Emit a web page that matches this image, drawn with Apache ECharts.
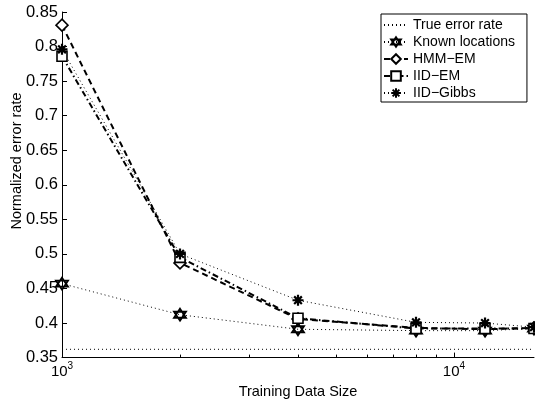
<!DOCTYPE html>
<html><head><meta charset="utf-8">
<script src="https://cdn.jsdelivr.net/npm/echarts@6/dist/echarts.min.js"></script>
<style>html,body{margin:0;padding:0;background:#fff}#c{width:535px;height:404px}</style>
</head><body><div id="c"></div>
<script>
// ---- data ----
const sizes   = [1000, 2000, 4000, 8000, 12000, 16000];
const trueErr = [0.362, 0.362, 0.362, 0.362, 0.362, 0.362];
const known   = [0.457, 0.412, 0.391, 0.389, 0.389, 0.392];
const hmmEm   = [0.831, 0.487, 0.406, 0.393, 0.391, 0.393];
const iidEm   = [0.786, 0.495, 0.407, 0.392, 0.392, 0.392];
const iidGibbs= [0.796, 0.500, 0.433, 0.401, 0.400, 0.394];
const seriesNames = ['True error rate', 'Known locations', 'HMM\u2212EM', 'IID\u2212EM', 'IID\u2212Gibbs'];
const xMajorTicks = [1000, 10000];
const xMajorExp   = ['3', '4'];
const xMinorTicks = [2000, 3000, 4000, 5000, 6000, 7000, 8000, 9000];

const FONT = 'Liberation Sans, Arial, Helvetica, sans-serif';
const pair = arr => sizes.map((x, i) => [x, arr[i]]);

const hexagram = 'path://M0,-10L8.66,5L-8.66,5Z M0,10L8.66,-5L-8.66,-5Z';
const asterisk = 'path://M0,-10L0,10 M-10,0L10,0 M-7,-7L7,7 M-7,7L7,-7';
const diamond  = 'path://M0,-10L10,0L0,10L-10,0Z';

const chart = echarts.init(document.getElementById('c'), null, {renderer: 'canvas'});
chart.setOption({
  animation: false,
  backgroundColor: '#fff',
  grid: {left: 62, right: 1, top: 12, bottom: 23, containLabel: false},
  legend: {
    orient: 'vertical', left: 381, top: 14,
    itemWidth: 24, itemHeight: 12, itemGap: 3,
    padding: [4, 12, 2, 2],
    borderColor: '#000', borderWidth: 1, backgroundColor: '#fff',
    textStyle: {fontFamily: FONT, fontSize: 14, color: '#000'},
    data: seriesNames
  },
  xAxis: [{
    type: 'log', logBase: 10, min: 1000, max: 16000,
    axisLine: {show: true, lineStyle: {color: '#000', width: 1}},
    axisTick: {show: true, inside: true, length: 5, customValues: xMajorTicks, lineStyle: {color: '#000'}},
    axisLabel: {
      customValues: xMajorTicks, margin: 4, color: '#000',
      formatter: v => {
        let k = 0, best = Infinity;
        xMajorTicks.forEach((t, i) => { const d = Math.abs(Math.log10(t) - Math.log10(v)); if (d < best) { best = d; k = i; } });
        return '{b|10}{s|' + xMajorExp[k] + '}';
      },
      rich: {
        b: {fontFamily: FONT, fontSize: 15, color: '#000', lineHeight: 15, padding: [5, 0, 0, 0]},
        s: {fontFamily: FONT, fontSize: 10, color: '#000', lineHeight: 10, verticalAlign: 'top'}
      }
    },
    splitLine: {show: false}, minorSplitLine: {show: false},
    name: 'Training Data Size', nameLocation: 'middle', nameGap: 9,
    nameTextStyle: {fontFamily: FONT, fontSize: 14.5, color: '#000', verticalAlign: 'top', padding: [3, 0, 0, 0]}
  }, {
    type: 'log', logBase: 10, min: 1000, max: 16000, position: 'bottom',
    axisLine: {show: false},
    axisTick: {show: true, inside: true, length: 3, customValues: xMinorTicks, lineStyle: {color: '#000'}},
    axisLabel: {show: false}, splitLine: {show: false}
  }],
  yAxis: {
    type: 'value', min: 0.35, max: 0.85, interval: 0.05,
    axisLine: {show: true, lineStyle: {color: '#000', width: 1}},
    axisTick: {show: true, inside: true, length: 5, lineStyle: {color: '#000'}},
    axisLabel: {fontFamily: FONT, fontSize: 16.5, color: '#000', margin: 4,
      formatter: v => String(+v.toFixed(2))},
    splitLine: {show: false}
  },
  graphic: [{
    type: 'text', x: 17, y: 161, rotation: Math.PI / 2,
    style: {text: 'Normalized error rate', fontFamily: FONT, fontSize: 14.5, fill: '#000',
      align: 'center', verticalAlign: 'middle'}
  }],
  series: [{
    name: seriesNames[0], type: 'line', data: pair(trueErr),
    symbol: 'circle', symbolSize: 0, showSymbol: false,
    lineStyle: {color: '#000', width: 1, type: [1, 3]}, itemStyle: {color: '#000', opacity: 0}
  }, {
    name: seriesNames[1], type: 'line', data: pair(known), symbol: hexagram, symbolSize: 12,
    lineStyle: {color: '#000', width: 1, type: [1, 3]},
    itemStyle: {color: '#fff', borderColor: '#000', borderWidth: 1.8}
  }, {
    name: seriesNames[2], type: 'line', data: pair(hmmEm), symbol: diamond, symbolSize: 12,
    lineStyle: {color: '#000', width: 2, type: [6, 4]},
    itemStyle: {color: '#fff', borderColor: '#000', borderWidth: 1.6}
  }, {
    name: seriesNames[3], type: 'line', data: pair(iidEm), symbol: 'rect', symbolSize: 10,
    lineStyle: {color: '#000', width: 2, type: [6, 3, 1.5, 3]},
    itemStyle: {color: '#fff', borderColor: '#000', borderWidth: 1.6}
  }, {
    name: seriesNames[4], type: 'line', data: pair(iidGibbs), symbol: asterisk, symbolSize: 11,
    lineStyle: {color: '#000', width: 1, type: [1, 3]},
    itemStyle: {color: '#000', borderColor: '#000', borderWidth: 2.2}
  }]
});
</script></body></html>
